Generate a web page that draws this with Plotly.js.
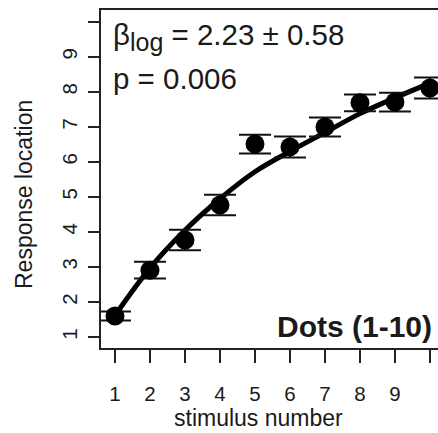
<!DOCTYPE html>
<html>
<head>
<meta charset="utf-8">
<script src="https://cdn.plot.ly/plotly-3.0.1.min.js"></script>
<style>html,body{margin:0;padding:0;background:#fff;}#chart{width:438px;height:433px;}</style>
</head>
<body>
<div id="chart"></div>
<script>
// Data
const stimulus = [1, 2, 3, 4, 5, 6, 7, 8, 9, 10];
const responseMean = [1.60, 2.91, 3.77, 4.77, 6.51, 6.43, 7.00, 7.69, 7.71, 8.11];
const responseErr = [0.13, 0.24, 0.29, 0.29, 0.27, 0.30, 0.27, 0.24, 0.27, 0.30];
const fitValues = [1.62, 2.97, 4.05, 4.95, 5.72, 6.30, 6.84, 7.38, 7.83, 8.25];
const xTickVals = [1, 2, 3, 4, 5, 6, 7, 8, 9];
const xTickText = ['1', '2', '3', '4', '5', '6', '7', '8', '9'];
const xExtraTicks = [10];
const yTickVals = [1, 2, 3, 4, 5, 6, 7, 8, 9];
const yTickText = ['1', '2', '3', '4', '5', '6', '7', '8', '9'];
const yExtraTicks = [10];

const FONT = 'Liberation Sans, Arial, Helvetica, sans-serif';
const INK = '#1a1a1a';

const traces = [
  {
    x: stimulus, y: fitValues, type: 'scatter', mode: 'lines',
    line: {color: '#000', width: 5, shape: 'spline', smoothing: 1},
    hoverinfo: 'skip', showlegend: false
  },
  {
    x: stimulus, y: responseMean, type: 'scatter', mode: 'markers',
    marker: {color: '#000', size: 19},
    error_y: {type: 'data', array: responseErr, visible: true, color: '#111', thickness: 2, width: 16},
    showlegend: false
  }
];

const layout = {
  width: 438, height: 433,
  margin: {l: 101, r: 0, t: 10, b: 85},
  paper_bgcolor: '#fff', plot_bgcolor: '#fff',
  font: {family: FONT, color: INK},
  showlegend: false,
  xaxis: {
    range: [0.6, 10.23], tickmode: 'array', tickvals: xTickVals, ticktext: xTickText,
    showgrid: false, zeroline: false,
    showline: true, mirror: true, linecolor: '#222', linewidth: 2,
    ticks: 'outside', ticklen: 13, tickwidth: 2, tickcolor: '#222',
    ticklabelstandoff: 13,
    tickfont: {family: FONT, size: 20.5, color: INK},
    minor: {tickmode: 'array', tickvals: xExtraTicks, ticks: 'outside', ticklen: 13, tickwidth: 2, tickcolor: '#222', showgrid: false}
  },
  yaxis: {
    range: [0.686, 10.34], tickmode: 'array', tickvals: yTickVals, ticktext: yTickText,
    showgrid: false, zeroline: false,
    showline: true, mirror: false, linecolor: '#222', linewidth: 2,
    ticks: 'outside', ticklen: 11, tickwidth: 2, tickcolor: '#222',
    tickangle: -90, ticklabelstandoff: 3,
    tickfont: {family: FONT, size: 20.5, color: INK},
    minor: {tickmode: 'array', tickvals: yExtraTicks, ticks: 'outside', ticklen: 11, tickwidth: 2, tickcolor: '#222', showgrid: false}
  },
  annotations: [
    {xref: 'paper', yref: 'paper', x: (258 - 101) / 337, y: (348 - 418) / 338,
     xanchor: 'center', yanchor: 'middle', showarrow: false,
     text: 'stimulus number', font: {family: FONT, size: 23, color: INK}},
    {xref: 'paper', yref: 'paper', x: (24 - 101) / 337, y: (348 - 195) / 338,
     xanchor: 'center', yanchor: 'middle', showarrow: false, textangle: -90,
     text: 'Response location', font: {family: FONT, size: 23, color: INK}},
    {xref: 'paper', yref: 'paper', x: (111 - 101) / 337, y: (348 - 37) / 338,
     xanchor: 'left', yanchor: 'middle', showarrow: false,
     text: 'β<sub><span style="font-size:25px">log</span></sub> = 2.23 ± 0.58', font: {family: FONT, size: 29.5, color: INK}},
    {xref: 'paper', yref: 'paper', x: (111 - 101) / 337, y: (348 - 78) / 338,
     xanchor: 'left', yanchor: 'middle', showarrow: false,
     text: 'p = 0.006', font: {family: FONT, size: 29.5, color: INK}},
    {xref: 'paper', yref: 'paper', x: (434 - 101) / 337, y: (348 - 326) / 338,
     xanchor: 'right', yanchor: 'middle', showarrow: false,
     text: '<b>Dots (1-10)</b>', font: {family: FONT, size: 30, color: INK}}
  ]
};

Plotly.newPlot('chart', traces, layout, {displayModeBar: false, staticPlot: true});
</script>
</body>
</html>
